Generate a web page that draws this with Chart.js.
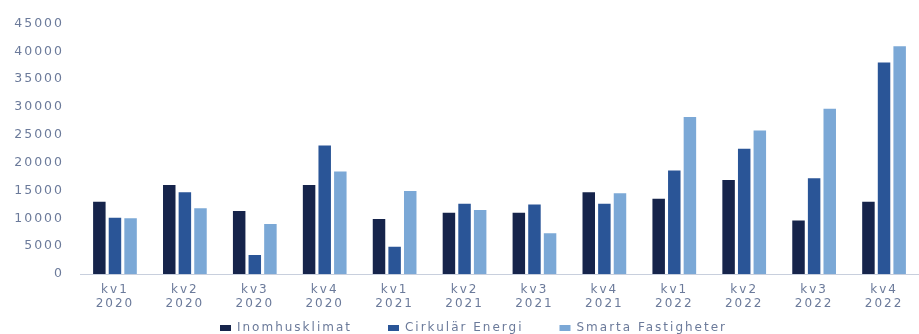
<!DOCTYPE html>
<html>
<head>
<meta charset="utf-8">
<script src="https://cdn.jsdelivr.net/npm/chart.js@4"></script>
<style>
html,body{margin:0;padding:0;background:#fff;}
#wrap{width:919px;height:334px;position:relative;}
</style>
</head>
<body>
<div id="wrap"><canvas id="c"></canvas></div>
<script>
const categories = [["kv1","2020"],["kv2","2020"],["kv3","2020"],["kv4","2020"],["kv1","2021"],["kv2","2021"],["kv3","2021"],["kv4","2021"],["kv1","2022"],["kv2","2022"],["kv3","2022"],["kv4","2022"]];
const inomhusklimat = [13000,16000,11300,16000,9900,11000,11000,14700,13500,16900,9600,13000];
const cirkularEnergi = [10100,14700,3400,23100,4900,12600,12500,12600,18600,22500,17200,38000];
const smartaFastigheter = [10000,11800,9000,18400,14900,11500,7300,14500,28200,25800,29700,40900];
const seriesNames = ["Inomhusklimat","Cirkulär Energi","Smarta Fastigheter"];
const yTicks = [0,5000,10000,15000,20000,25000,30000,35000,40000,45000];

const textColor = '#6b7a9a';
const FONT = 'DejaVu Sans';
const LS = '2px';

const spacingPlugin = {
  id: 'spacing',
  afterInit(chart){
    chart.ctx.letterSpacing = LS;
    const lg = chart.legend;
    if (lg && !lg._patched) {
      const origFit = lg.fit;
      lg.fit = function(){ origFit.call(this); this.height = 22; };
      const origDraw = lg.draw;
      lg.draw = function(a){
        const t = this.top, h = this.height, l = this.left, r = this.right;
        this.top = t - 26; this.height = h + 26;
        this.left = l + 14; this.right = r + 14;
        try { origDraw.call(this, a); } finally {
          this.top = t; this.height = h; this.left = l; this.right = r;
        }
      };
      lg._patched = true;
    }
  },
  beforeUpdate(chart){ chart.ctx.letterSpacing = LS; },
  beforeLayout(chart){ chart.ctx.letterSpacing = LS; },
  beforeDraw(chart){ chart.ctx.letterSpacing = LS; }
};

new Chart(document.getElementById('c'), {
  type: 'bar',
  data: {
    labels: categories,
    datasets: [
      {label: seriesNames[0], data: inomhusklimat, backgroundColor: '#16244b'},
      {label: seriesNames[1], data: cirkularEnergi, backgroundColor: '#2a5597'},
      {label: seriesNames[2], data: smartaFastigheter, backgroundColor: '#7ba8d6'}
    ]
  },
  plugins: [spacingPlugin],
  options: {
    responsive: true,
    maintainAspectRatio: false,
    animation: false,
    datasets: { bar: { categoryPercentage: 0.67, barPercentage: 0.8 } },
    layout: { padding: { top: 14, right: 0, bottom: 0, left: 0 } },
    plugins: {
      legend: {
        position: 'bottom',
        labels: {
          boxWidth: 11, boxHeight: 6, padding: 36,
          color: textColor, font: { family: FONT, size: 12 }
        }
      },
      tooltip: { enabled: false }
    },
    scales: {
      x: {
        afterFit(scale){ scale.height = 38; },
        grid: { display: false, drawTicks: false },
        border: { display: true, color: '#c8cfdd', width: 1 },
        ticks: { color: textColor, font: { family: FONT, size: 12, lineHeight: 1.15 }, padding: 9, maxRotation: 0, autoSkip: false }
      },
      y: {
        min: 0, max: 45000,
        afterBuildTicks(scale){ scale.ticks = yTicks.map(v => ({value: v})); },
        afterFit(scale){ scale.width = 80; },
        grid: { display: false, drawTicks: false },
        border: { display: false },
        ticks: { color: textColor, font: { family: FONT, size: 12.5 }, padding: 16,
          callback: v => String(v) }
      }
    }
  }
});
</script>
</body>
</html>
